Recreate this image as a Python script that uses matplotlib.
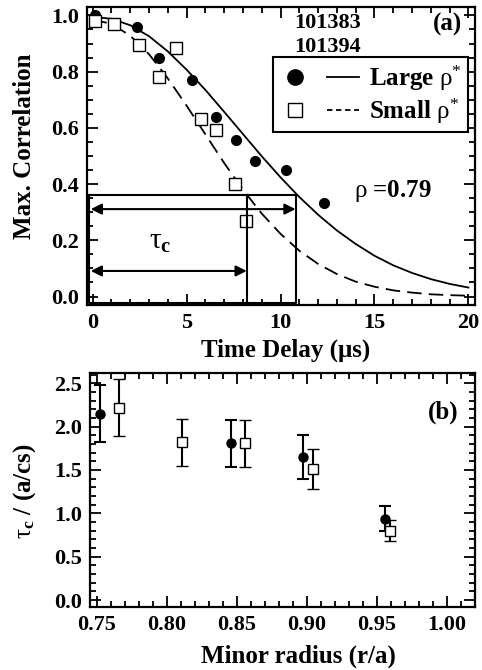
import matplotlib
matplotlib.use('Agg')
import matplotlib.pyplot as plt
from matplotlib.lines import Line2D
from matplotlib.legend_handler import HandlerTuple
from matplotlib.ticker import MultipleLocator, FormatStrFormatter

plt.rcParams['font.family'] = ['Liberation Serif', 'DejaVu Serif']
plt.rcParams['font.weight'] = 'bold'
plt.rcParams['mathtext.fontset'] = 'custom'
plt.rcParams['mathtext.rm'] = 'Liberation Serif:weight=normal'
plt.rcParams['mathtext.it'] = 'Liberation Serif:italic:weight=normal'
plt.rcParams['mathtext.bf'] = 'Liberation Serif:weight=bold'

# panel (a): measured correlation vs time delay
large_t = [0.1, 2.35, 3.55, 5.3, 6.55, 7.65, 8.65, 10.3, 12.3]
large_c = [1.0, 0.957, 0.85, 0.771, 0.64, 0.558, 0.482, 0.45, 0.334]
small_t = [0.1, 1.15, 2.45, 3.55, 4.45, 5.75, 6.55, 7.55, 8.15]
small_c = [0.979, 0.97, 0.896, 0.781, 0.884, 0.631, 0.591, 0.40, 0.269]

# fitted curves
fit_t = list(range(21))
large_fit = [0.995, 0.988, 0.965, 0.926, 0.872, 0.807, 0.735, 0.657, 0.578, 0.499,
             0.424, 0.354, 0.291, 0.235, 0.187, 0.145, 0.111, 0.084, 0.062, 0.045, 0.032]
small_fit = [0.985, 0.97, 0.928, 0.862, 0.776, 0.679, 0.577, 0.475, 0.38, 0.295,
             0.223, 0.163, 0.116, 0.08, 0.053, 0.035, 0.022, 0.014, 0.008, 0.005, 0.003]

tau_large = 10.8
tau_small = 8.2
level = 0.362

# panel (b): correlation time vs minor radius
large_r = [0.752, 0.846, 0.897, 0.956]
large_tau = [2.15, 1.81, 1.65, 0.94]
large_err = [0.33, 0.27, 0.25, 0.14]
small_r = [0.766, 0.811, 0.856, 0.904, 0.9595]
small_tau = [2.22, 1.82, 1.81, 1.51, 0.80]
small_err = [0.33, 0.27, 0.27, 0.23, 0.12]


def style(ax):
    for s in ax.spines.values():
        s.set_linewidth(1.6)
    ax.tick_params(which='both', direction='in', top=True, right=True, width=1.3,
                   labelsize=16, pad=6)
    ax.tick_params(which='major', length=8)
    ax.tick_params(which='minor', length=4)
    for lab in ax.get_xticklabels() + ax.get_yticklabels():
        lab.set_fontweight('bold')


fig = plt.figure(figsize=(4.82, 6.70), dpi=100)
ax1 = fig.add_axes([0.1805, 0.5448, 0.805, 0.4448])
ax2 = fig.add_axes([0.1867, 0.0945, 0.7988, 0.3483])

# ---- panel (a)
ax1.plot(fit_t, large_fit, color='k', lw=1.3)
ax1.plot(fit_t, small_fit, color='k', lw=1.3, linestyle=(0, (8, 4)))
ax1.plot(large_t, large_c, 'o', color='k', ms=7)
ax1.plot(small_t, small_c, 's', mfc='white', mec='k', mew=1, ms=8)

# 1/e box and tau_c arrows
ax1.plot([-0.2, tau_large, tau_large, -0.2, -0.2], [level, level, -0.022, -0.022, level],
         color='k', lw=1.5)
ax1.plot([tau_small, tau_small], [-0.022, level], color='k', lw=1.5)
arrow = dict(arrowstyle='<|-|>', color='k', lw=1.5, mutation_scale=16, shrinkA=0, shrinkB=0)
ax1.annotate('', xy=(tau_large, 0.311), xytext=(-0.1, 0.311), arrowprops=arrow)
ax1.annotate('', xy=(tau_small, 0.091), xytext=(-0.1, 0.091), arrowprops=arrow)
ax1.text(3.6, 0.196, r'$\mathrm{\tau}_{\mathbf{c}}$', fontsize=21, ha='center', va='center')

ax1.set_xlim(-0.3, 20.35)
ax1.set_ylim(-0.03, 1.03)
ax1.xaxis.set_major_locator(MultipleLocator(5))
ax1.xaxis.set_minor_locator(MultipleLocator(1))
ax1.yaxis.set_major_locator(MultipleLocator(0.2))
ax1.yaxis.set_minor_locator(MultipleLocator(0.05))
ax1.yaxis.set_major_formatter(FormatStrFormatter('%.1f'))
style(ax1)

ax1.set_xlabel('Time Delay (μs)', fontsize=18, fontweight='bold')
ax1.set_ylabel('Max. Correlation', fontsize=18, fontweight='bold')
ax1.xaxis.set_label_coords(0.512, -0.151)
ax1.yaxis.set_label_coords(-0.16, 0.532)
ax1.xaxis.label.set_va('center')
ax1.yaxis.label.set_va('center')

ax1.text(0.619, 0.945, '101383', transform=ax1.transAxes, fontsize=16,
         ha='center', va='center')
ax1.text(0.619, 0.867, '101394', transform=ax1.transAxes, fontsize=16,
         ha='center', va='center')
ax1.text(0.928, 0.943, '(a)', transform=ax1.transAxes, fontsize=18,
         ha='center', va='center')
ax1.text(16.0, 0.376, r'$\mathrm{\rho}$ =0.79', fontsize=18, ha='center', va='center')

h_lp = Line2D([], [], marker='o', color='k', ls='none', ms=11)
h_ll = Line2D([], [], color='k', lw=1.3)
h_sp = Line2D([], [], marker='s', mfc='white', mec='k', mew=1, ls='none', ms=10)
h_sl = Line2D([], [], color='k', lw=1.3, linestyle=(0, (3, 2)))
leg = ax1.legend([(h_lp, h_ll), (h_sp, h_sl)],
                 [r'Large $\mathrm{\rho}^{*}$', r'Small $\mathrm{\rho}^{*}$'],
                 handler_map={tuple: HandlerTuple(ndivide=None, pad=0.6)},
                 loc='upper right', bbox_to_anchor=(0.982, 0.832),
                 prop={'size': 18, 'weight': 'bold'}, fancybox=False,
                 framealpha=1, edgecolor='k', handlelength=3.2,
                 handletextpad=0.4, borderpad=0.25, labelspacing=0.15,
                 borderaxespad=0)
leg.get_frame().set_linewidth(1.5)

# ---- panel (b)
ax2.errorbar(large_r, large_tau, yerr=large_err, fmt='o', color='k', ms=6.5,
             capsize=4, elinewidth=1.5, capthick=1.5)
ax2.errorbar(small_r, small_tau, yerr=small_err, fmt='s', color='k', mfc='white',
             mec='k', mew=1, ms=7, capsize=4, elinewidth=1.5, capthick=1.5)

ax2.set_xlim(0.745, 1.02)
ax2.set_ylim(-0.077, 2.615)
ax2.xaxis.set_major_locator(MultipleLocator(0.05))
ax2.xaxis.set_minor_locator(MultipleLocator(0.01))
ax2.yaxis.set_major_locator(MultipleLocator(0.5))
ax2.yaxis.set_minor_locator(MultipleLocator(0.1))
ax2.xaxis.set_major_formatter(FormatStrFormatter('%.2f'))
ax2.yaxis.set_major_formatter(FormatStrFormatter('%.1f'))
style(ax2)

ax2.set_xlabel('Minor radius (r/a)', fontsize=18, fontweight='bold')
ax2.set_ylabel(r'$\mathrm{\tau}_{\mathbf{c}}$ / (a/cs)', fontsize=18, fontweight='bold')
ax2.xaxis.set_label_coords(0.542, -0.214)
ax2.yaxis.set_label_coords(-0.169, 0.496)
ax2.xaxis.label.set_va('center')
ax2.yaxis.label.set_va('center')
ax2.text(0.917, 0.834, '(b)', transform=ax2.transAxes, fontsize=18,
         ha='center', va='center')

fig.savefig('out.png', dpi=100)
